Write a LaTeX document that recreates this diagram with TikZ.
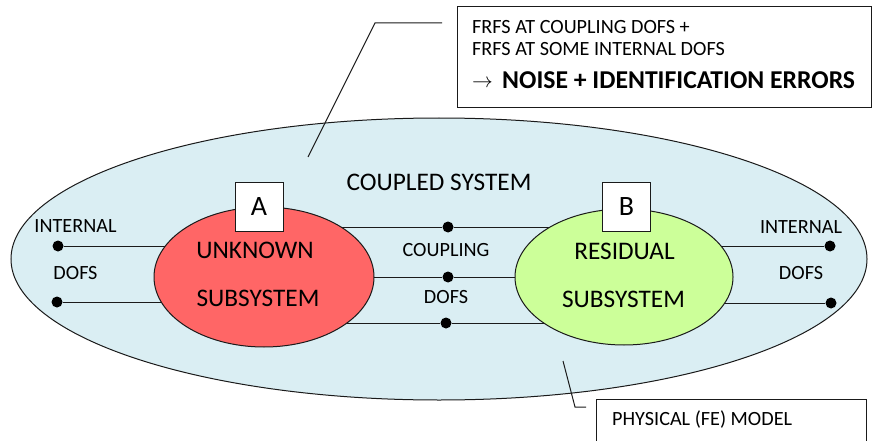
\documentclass[tikz,border=0pt]{standalone}
\usepackage{fontspec}
\setmainfont{Carlito}
\usetikzlibrary{shapes.geometric}
\definecolor{bgblue}{HTML}{DAEEF3}
\definecolor{redfill}{HTML}{FF6666}
\definecolor{greenfill}{HTML}{CCFF99}
\definecolor{linec}{HTML}{1A1A1A}
\tikzset{
  lbl/.style={inner sep=0pt, anchor=base, font=\fontsize{20.2}{24}\selectfont},
  biglbl/.style={inner sep=0pt, anchor=base, font=\fontsize{25.3}{29}\selectfont},
  conn/.style={draw=linec, line width=1pt},
  dofdot/.style={circle, fill=black, inner sep=0pt, minimum size=11pt},
  tagbox/.style={draw=linec, line width=0.9pt, fill=white, minimum width=48pt, minimum height=49pt, inner sep=0pt, font=\fontsize{28}{32}\selectfont},
  subsys/.style={ellipse, draw=linec, line width=1pt, inner sep=0pt},
  callout/.style={draw=linec, line width=1pt},
  framebox/.style={draw=linec, line width=1pt}
}
\begin{document}
\begin{tikzpicture}[x=1pt, y=-1pt]
\useasboundingbox (0,0) rectangle (872,441);
% coupled system
\node[subsys, fill=bgblue, minimum width=856pt, minimum height=282pt] (sys) at (439,259) {};
% centres of subsystems
\coordinate (cA) at (264,277);
\coordinate (cB) at (624,277);
% internal dofs A
\node[dofdot] (iA1) at (58,246) {};
\node[dofdot] (iA2) at (57,302) {};
% internal dofs B
\node[dofdot] (iB1) at (830,246) {};
\node[dofdot] (iB2) at (831,303) {};
% coupling dofs
\node[dofdot] (c1) at (448,227) {};
\node[dofdot] (c2) at (448,277) {};
\node[dofdot] (c3) at (446,323) {};
% connectors (drawn under the subsystems)
\draw[conn] (iA1) -- (iA1 -| cA);
\draw[conn] (iA2) -- (iA2 -| cA);
\draw[conn] (iB1) -- (iB1 -| cB);
\draw[conn] (iB2) -- (iB2 -| cB);
\draw[conn] (c1 -| cA) -- (c1) -- (c1 -| cB);
\draw[conn] (c2 -| cA) -- (c2) -- (c2 -| cB);
\draw[conn] (c3 -| cA) -- (c3) -- (c3 -| cB);
% subsystems
\node[subsys, fill=redfill, minimum width=220pt, minimum height=140pt] (A) at (cA) {};
\node[subsys, fill=greenfill, minimum width=218pt, minimum height=136pt] (B) at (cB) {};
\node[tagbox] (tA) at (259,206.5) {A};
\node[tagbox] (tB) at (626.5,207) {B};
% labels
\node[biglbl] (lsys) at (439,190) {COUPLED SYSTEM};
\node[biglbl] (lA1) at (255,258) {UNKNOWN};
\node[biglbl] (lA2) at (258,306) {SUBSYSTEM};
\node[biglbl] (lB1) at (624.5,259) {RESIDUAL};
\node[biglbl] (lB2) at (623.5,307) {SUBSYSTEM};
\node[lbl] (liA1) at (75.5,232.5) {INTERNAL};
\node[lbl] (liA2) at (75.5,279.5) {DOFS};
\node[lbl] (liB1) at (801,233.5) {INTERNAL};
\node[lbl] (liB2) at (801,279.5) {DOFS};
\node[lbl] (lc1) at (446,256.5) {COUPLING};
\node[lbl] (lc2) at (446,303.5) {DOFS};
% top callout
\path[framebox] (457,7) rectangle (871,108);
\node[lbl, anchor=base west] (t1) at (472,34) {FRFS AT COUPLING DOFS +};
\node[lbl, anchor=base west] (t2) at (472,56) {FRFS AT SOME INTERNAL DOFS};
\node[lbl, anchor=base west] (t3a) at (472,88) {$\rightarrow$};
\node[inner sep=0pt, anchor=base west, font=\fontsize{25.7}{30}\selectfont\bfseries] (t3) at (502,88.5) {NOISE + IDENTIFICATION ERRORS};
\coordinate (k1) at (308,157);
\coordinate (k2) at (375,23);
\coordinate (k3) at (442,23);
\draw[callout] (k1) -- (k2) -- (k3);
% bottom callout
\draw[framebox] (596,442) -- (596,399) -- (866,399) -- (866,442);
\node[lbl, anchor=base west] (phys) at (612,425.5) {PHYSICAL (FE) MODEL};
\coordinate (m1) at (563,361);
\coordinate (m2) at (575,407);
\coordinate (m3) at (586,407);
\draw[callout] (m1) -- (m2) -- (m3);
\end{tikzpicture}
\end{document}
